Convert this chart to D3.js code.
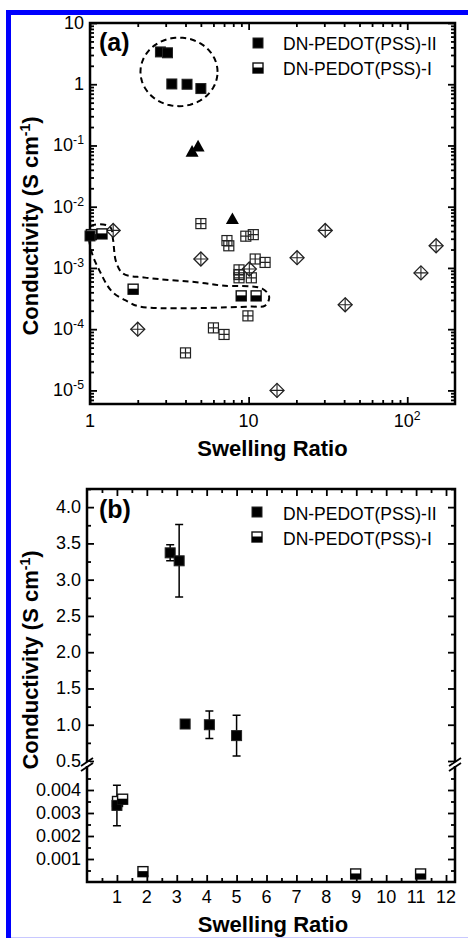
<!DOCTYPE html>
<html><head><meta charset="utf-8">
<script src="https://cdn.jsdelivr.net/npm/d3@7"></script>
<style>body{margin:0;background:#fff}svg{display:block;font-family:"Liberation Sans",Arial,sans-serif}</style>
</head><body><svg id="c" width="468" height="938"></svg>
<script>
// ---------- data ----------
const seriesNames = ["DN-PEDOT(PSS)-II", "DN-PEDOT(PSS)-I"];
const iiSwelling = [1.0, 2.78, 3.08, 3.28, 4.09, 5.0];
const iiConductivity = [0.00333, 3.37, 3.26, 1.01, 1.0, 0.85];
const iiError = [0.00088, 0.11, 0.5, 0, 0.19, 0.28];
const iSwelling = [1.02, 1.19, 1.87, 8.98, 11.15];
const iConductivity = [0.0035, 0.0036, 0.00045, 0.00035, 0.00035];
const triSwelling = [4.4, 4.8, 7.9];
const triConductivity = [0.078, 0.095, 0.0062];
const diamondSwelling = [1.40, 2.0, 5.0, 10.1, 15.1, 20.2, 30.4, 40.6, 122, 152];
const diamondConductivity = [4.1e-3, 1e-4, 1.4e-3, 9.6e-4, 1e-5, 1.47e-3, 4.1e-3, 2.5e-4, 8.3e-4, 2.3e-3];
const crossSwelling = [5.0, 7.3, 7.5, 9.6, 10.7, 11.0, 12.7, 8.7, 8.7, 8.7, 10.4, 9.9, 6.0, 7.0, 4.0];
const crossConductivity = [5.3e-3, 2.8e-3, 2.3e-3, 3.3e-3, 3.5e-3, 1.4e-3, 1.23e-3, 9.3e-4, 7.8e-4, 6.9e-4, 6.9e-4, 1.65e-4, 1.05e-4, 8.2e-5, 4.1e-5];
// annotation loop around DN-PEDOT(PSS)-I points (data coords)
const loopSwelling = [1.0, 1.337, 1.397, 1.459, 1.615, 2.223, 4.943, 6.80, 12.17, 13.47, 12.71, 10.22, 2.068, 1.737, 1.377, 1.156, 1.015];
const loopConductivity = [4.72e-3, 4.72e-3, 2.9e-3, 1.27e-3, 8.08e-4, 6.95e-4, 5.76e-4, 5.15e-4, 4.6e-4, 3.41e-4, 2.43e-4, 2.34e-4, 2.34e-4, 2.82e-4, 4.11e-4, 8.71e-4, 1.99e-3];
// ellipse around DN-PEDOT(PSS)-II points: centre and half-widths in decades
const ellipseCentre = [3.64, 1.59];
const ellipseHalfDecades = [0.243, 0.56];
const xTicksA = [1, 10, 100];
const xTickLabelsA = [["1", ""], ["10", ""], ["10", "2"]];
const yTicksA = [10, 1, 0.1, 0.01, 0.001, 1e-4, 1e-5];
const yTickLabelsA = [["10", ""], ["1", ""], ["10", "-1"], ["10", "-2"], ["10", "-3"], ["10", "-4"], ["10", "-5"]];
const xTicksB = [1,2,3,4,5,6,7,8,9,10,11,12];
const yUpperTicksB = [0.5,1.0,1.5,2.0,2.5,3.0,3.5,4.0];
const yLowerTicksB = [0.001,0.002,0.003,0.004];

// ---------- setup ----------
const svg = d3.select("#c");
const F = '"Liberation Sans",Arial,sans-serif';
svg.append("line").attr("x1",6).attr("x2",468).attr("y1",12.5).attr("y2",12.5).attr("stroke","#0000fe").attr("stroke-width",5);
svg.append("line").attr("x1",8.5).attr("x2",8.5).attr("y1",10).attr("y2",938).attr("stroke","#0000fe").attr("stroke-width",5);
svg.append("line").attr("x1",11).attr("x2",468).attr("y1",937.5).attr("y2",937.5).attr("stroke","#c8c8ff").attr("stroke-width",1);

function tickAxis(g, axisFn, scale, values, size, tx, ty) {
  g.append("g").attr("transform", `translate(${tx},${ty})`)
    .call(axisFn(scale).tickValues(values).tickSize(-size).tickFormat(""))
    .call(s => { s.select(".domain").remove(); s.selectAll(".tick line").attr("stroke","#000").attr("stroke-width",1.8); });
}
function supText(g, x, y, anchor, pair, fs) {
  const t = g.append("text").attr("x", x).attr("y", y).attr("text-anchor", anchor)
    .attr("font-size", fs).attr("font-family", F).attr("fill","#000").text(pair[0]);
  if (pair[1]) t.append("tspan").attr("dy", -7).attr("font-size", fs*0.68).text(pair[1]);
  return t;
}
const S = 10;
function filledSquare(g, x, y, s=S) {
  g.append("rect").attr("x", x-s/2).attr("y", y-s/2).attr("width", s).attr("height", s).attr("fill","#000").attr("stroke","#222").attr("stroke-width",1);
}
function halfSquare(g, x, y, s=S) {
  g.append("rect").attr("x", x-s/2).attr("y", y-s/2).attr("width", s).attr("height", s).attr("fill","#fff").attr("stroke","#111").attr("stroke-width",1.4);
  g.append("rect").attr("x", x-s/2).attr("y", y-s/2+s*0.45).attr("width", s).attr("height", s*0.55).attr("fill","#000");
}
function crossSquare(g, x, y, s=10) {
  g.append("rect").attr("x", x-s/2).attr("y", y-s/2).attr("width", s).attr("height", s).attr("fill","none").attr("stroke","#222").attr("stroke-width",1.2);
  g.append("path").attr("d", `M${x-s/2},${y}H${x+s/2}M${x},${y-s/2}V${y+s/2}`).attr("stroke","#222").attr("stroke-width",1.2);
}
function diamondCross(g, x, y, r=7) {
  g.append("path").attr("d", `M${x},${y-r}L${x+r},${y}L${x},${y+r}L${x-r},${y}Z`).attr("fill","none").attr("stroke","#222").attr("stroke-width",1.3);
  g.append("path").attr("d", `M${x-r},${y}H${x+r}M${x},${y-r}V${y+r}`).attr("stroke","#222").attr("stroke-width",1.1);
}
function triangle(g, x, y, s=13) {
  const h = s*0.9;
  g.append("path").attr("d", `M${x},${y-h*0.6}L${x+s/2},${y+h*0.4}L${x-s/2},${y+h*0.4}Z`).attr("fill","#000");
}

// ---------- panel (a) ----------
const xA = d3.scaleLog().domain([1, 200]).range([90, 455]);
const yA = d3.scaleLog().domain([6e-6, 10]).range([404, 23]);
const gA = svg.append("g");
const xMinorA = [2,3,4,5,6,7,8,9,20,30,40,50,60,70,80,90];
const yMinorA = [];
for (let e = -6; e <= 0; e++) for (let k = 2; k <= 9; k++) { const v = k*Math.pow(10,e); if (v > 6e-6 && v < 10) yMinorA.push(v); }
tickAxis(gA, d3.axisBottom, xA, xTicksA, 7, 0, 404);
tickAxis(gA, d3.axisBottom, xA, xMinorA, 4, 0, 404);
tickAxis(gA, d3.axisTop, xA, xTicksA, 7, 0, 23);
tickAxis(gA, d3.axisTop, xA, xMinorA, 4, 0, 23);
tickAxis(gA, d3.axisLeft, yA, yTicksA, 7, 90, 0);
tickAxis(gA, d3.axisLeft, yA, yMinorA, 4, 90, 0);
tickAxis(gA, d3.axisRight, yA, yTicksA, 7, 455, 0);
tickAxis(gA, d3.axisRight, yA, yMinorA, 4, 455, 0);
gA.append("rect").attr("x",90).attr("y",23).attr("width",365).attr("height",381).attr("fill","none").attr("stroke","#000").attr("stroke-width",2.5);
xTicksA.forEach((v,i) => supText(gA, xA(v), 427, "middle", xTickLabelsA[i], 18));
yTicksA.forEach((v,i) => supText(gA, 84, yA(v)+6, "end", yTickLabelsA[i], 18));

// annotations
const loopPts = loopSwelling.map((s,i) => [s, loopConductivity[i]]);
gA.append("path").attr("d", d3.line().x(d=>xA(d[0])).y(d=>yA(d[1])).curve(d3.curveCatmullRomClosed)(loopPts))
  .attr("fill","none").attr("stroke","#000").attr("stroke-width",2).attr("stroke-dasharray","6,4");
const ellPts = d3.range(0, 64).map(k => { const t = k/64*2*Math.PI;
  return [Math.pow(10, Math.log10(ellipseCentre[0]) + ellipseHalfDecades[0]*Math.cos(t)),
          Math.pow(10, Math.log10(ellipseCentre[1]) + ellipseHalfDecades[1]*Math.sin(t))]; });
gA.append("path").attr("d", d3.line().x(d=>xA(d[0])).y(d=>yA(d[1])).curve(d3.curveLinearClosed)(ellPts))
  .attr("fill","none").attr("stroke","#000").attr("stroke-width",2).attr("stroke-dasharray","6,4");

crossSwelling.forEach((s,i) => crossSquare(gA, xA(s), yA(crossConductivity[i])));
diamondSwelling.forEach((s,i) => diamondCross(gA, xA(s), yA(diamondConductivity[i])));
triSwelling.forEach((s,i) => triangle(gA, xA(s), yA(triConductivity[i])));
iSwelling.forEach((s,i) => { if (i===0) halfSquare(gA, xA(s), yA(iConductivity[i])); });
iiSwelling.forEach((s,i) => filledSquare(gA, xA(s), yA(iiConductivity[i])));
iSwelling.forEach((s,i) => { if (i>0) halfSquare(gA, xA(s), yA(iConductivity[i])); });

// legend a
filledSquare(gA, 258, 43, 10);
gA.append("text").attr("x",283).attr("y",50).attr("font-size",17.5).text(seriesNames[0]);
halfSquare(gA, 258, 68, 10);
gA.append("text").attr("x",283).attr("y",75).attr("font-size",17.5).text(seriesNames[1]);
gA.append("text").attr("x",99).attr("y",51).attr("font-size",25).attr("font-weight","bold").text("(a)");
gA.append("text").attr("x",272.5).attr("y",456).attr("text-anchor","middle").attr("font-size",22).attr("font-weight","bold").text("Swelling Ratio");
const ytA = gA.append("text").attr("transform","translate(38,226) rotate(-90)").attr("text-anchor","middle").attr("font-size",22).attr("font-weight","bold").text("Conductivity (S cm");
ytA.append("tspan").attr("dy",-8).attr("font-size",14).text("-1");
ytA.append("tspan").attr("dy",8).text(")");

// ---------- panel (b) ----------
const xB = d3.scaleLinear().domain([0, 12.3]).range([87, 455]);
const yUp = d3.scaleLinear().domain([0.5, 4.25]).range([761, 489]);
const yLo = d3.scaleLinear().domain([0, 0.005]).range([882, 767]);
const yB = v => v >= 0.4 ? yUp(v) : yLo(v);
const gB = svg.append("g");
const xMinorB = d3.range(0, 12).map(k => k + 0.5);
const yUpMinor = [0.75,1.25,1.75,2.25,2.75,3.25,3.75,4.25];
const yLoMinor = [0.0005,0.0015,0.0025,0.0035,0.0045];
tickAxis(gB, d3.axisBottom, xB, xTicksB, 7, 0, 882);
tickAxis(gB, d3.axisBottom, xB, xMinorB, 4, 0, 882);
tickAxis(gB, d3.axisTop, xB, xTicksB, 7, 0, 489);
tickAxis(gB, d3.axisTop, xB, xMinorB, 4, 0, 489);
[[d3.axisLeft,87],[d3.axisRight,455]].forEach(([fn,x]) => {
  tickAxis(gB, fn, yUp, yUpperTicksB, 7, x, 0);
  tickAxis(gB, fn, yUp, yUpMinor, 4, x, 0);
  tickAxis(gB, fn, yLo, yLowerTicksB, 7, x, 0);
  tickAxis(gB, fn, yLo, yLoMinor, 4, x, 0);
});
gB.append("path").attr("d", `M87,762V489H455V762M87,766V882H455V766`).attr("fill","none").attr("stroke","#000").attr("stroke-width",2.5);
[87,455].forEach(x => {
  gB.append("rect").attr("x",x-3).attr("y",762).attr("width",6).attr("height",4).attr("fill","#fff");
  gB.append("path").attr("d", `M${x-6},${766}L${x+6},${758}M${x-6},${771}L${x+6},${763}`).attr("stroke","#000").attr("stroke-width",1.8);
});
xTicksB.forEach(v => gB.append("text").attr("x", xB(v)).attr("y", 903).attr("text-anchor","middle").attr("font-size",18).text(v));
yUpperTicksB.forEach(v => gB.append("text").attr("x", 81).attr("y", yUp(v)+6).attr("text-anchor","end").attr("font-size",18).text(d3.format(".1f")(v)));
yLowerTicksB.forEach(v => gB.append("text").attr("x", 81).attr("y", yLo(v)+6).attr("text-anchor","end").attr("font-size",18).text(d3.format(".3f")(v)));

// error bars
iiSwelling.forEach((s,i) => {
  const e = iiError[i]; if (!e) return;
  const x = xB(s), y1 = yB(iiConductivity[i]-e), y2 = yB(iiConductivity[i]+e);
  gB.append("path").attr("d", `M${x},${y1}V${y2}M${x-4},${y1}H${x+4}M${x-4},${y2}H${x+4}`).attr("stroke","#000").attr("stroke-width",1.5).attr("fill","none");
});
iSwelling.forEach((s,i) => { if (i===0) halfSquare(gB, xB(s), yB(iConductivity[i])); });
iiSwelling.forEach((s,i) => filledSquare(gB, xB(s), yB(iiConductivity[i])));
iSwelling.forEach((s,i) => { if (i>0) halfSquare(gB, xB(s), yB(iConductivity[i])); });

filledSquare(gB, 257, 512, 10);
gB.append("text").attr("x",283).attr("y",520).attr("font-size",17.5).text(seriesNames[0]);
halfSquare(gB, 257, 537, 10);
gB.append("text").attr("x",283).attr("y",545).attr("font-size",17.5).text(seriesNames[1]);
gB.append("text").attr("x",99).attr("y",518).attr("font-size",25).attr("font-weight","bold").text("(b)");
gB.append("text").attr("x",273).attr("y",932).attr("text-anchor","middle").attr("font-size",22).attr("font-weight","bold").text("Swelling Ratio");
const ytB = gB.append("text").attr("transform","translate(38,660) rotate(-90)").attr("text-anchor","middle").attr("font-size",22).attr("font-weight","bold").text("Conductivity (S cm");
ytB.append("tspan").attr("dy",-8).attr("font-size",14).text("-1");
ytB.append("tspan").attr("dy",8).text(")");
svg.selectAll("text").attr("font-family", F);
</script></body></html>
